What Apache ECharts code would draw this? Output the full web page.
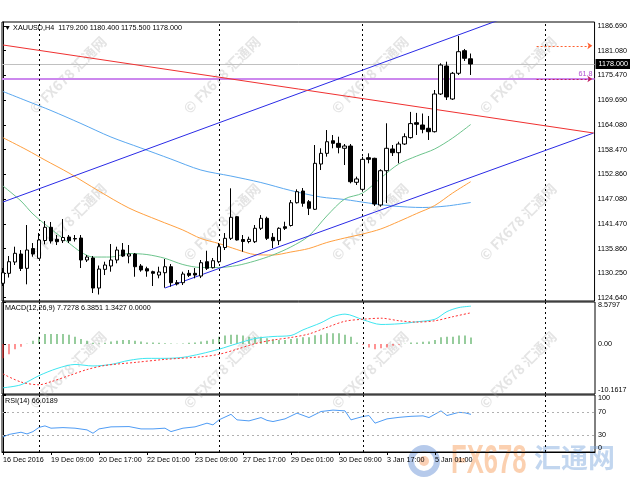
<!DOCTYPE html>
<html><head><meta charset="utf-8">
<script src="https://cdn.jsdelivr.net/npm/echarts@6/dist/echarts.min.js"></script>
<style>html,body{margin:0;padding:0;background:#fff}#c{width:630px;height:490px}</style>
</head><body><div id="c"></div>
<script>
// ---- XAUUSD H4 bars (index 0 = 16 Dec 2016 01:00) ----
const open  = [1127.93,1130.21,1132.79,1134.62,1131.35,1135.87,1133.64,1137.70,1140.72,1137.98,1137.66,1138.50,1138.16,1138.27,1133.25,1133.71,1126.85,1131.12,1131.88,1133.25,1135.53,1134.16,1134.62,1131.88,1131.26,1130.58,1129.82,1130.35,1131.72,1128.07,1128.07,1130.21,1130.21,1129.59,1132.86,1131.49,1132.86,1136.10,1138.20,1143.14,1137.93,1137.47,1137.43,1140.49,1142.77,1138.43,1137.66,1140.85,1141.13,1146.33,1149.00,1146.56,1144.83,1155.17,1157.61,1160.49,1159.89,1158.76,1159.28,1150.99,1149.39,1156.61,1156.47,1145.81,1153.64,1158.60,1157.76,1159.74,1161.20,1164.61,1164.08,1163.33,1162.55,1171.16,1177.55,1170.02,1175.89,1181.05,1179.20];
const high  = [1131.42,1134.16,1136.29,1135.53,1141.24,1137.13,1139.41,1142.15,1141.93,1138.96,1142.61,1138.96,1138.96,1138.96,1134.39,1134.16,1131.99,1132.86,1136.90,1136.29,1137.13,1136.67,1134.85,1132.33,1131.72,1130.81,1131.72,1133.48,1132.33,1128.68,1130.58,1130.97,1131.42,1133.25,1135.37,1133.71,1137.13,1139.41,1149.62,1143.30,1138.96,1138.57,1141.24,1143.52,1143.14,1139.41,1140.72,1141.99,1146.95,1149.39,1149.69,1146.95,1159.51,1158.76,1162.93,1161.79,1161.41,1159.74,1159.74,1152.29,1156.84,1157.61,1156.61,1153.96,1164.47,1159.51,1160.26,1162.18,1167.07,1166.84,1166.70,1166.14,1172.07,1178.17,1178.54,1176.19,1184.41,1181.44,1180.40];
const low   = [1127.31,1129.25,1132.11,1130.74,1127.70,1134.00,1133.48,1136.83,1137.02,1136.67,1137.13,1137.13,1137.47,1131.42,1132.79,1125.71,1125.37,1129.82,1130.58,1132.50,1133.93,1132.50,1129.43,1130.58,1129.43,1127.31,1129.07,1126.92,1127.15,1127.43,1127.54,1129.36,1129.07,1129.13,1130.97,1131.31,1132.50,1135.53,1137.82,1137.70,1135.14,1137.06,1137.13,1140.10,1137.82,1135.99,1136.67,1140.10,1140.90,1146.15,1145.42,1143.52,1144.67,1153.80,1156.85,1158.76,1157.61,1154.94,1150.76,1150.38,1148.85,1155.33,1145.58,1145.42,1146.26,1157.00,1155.33,1159.51,1160.98,1161.80,1162.19,1160.66,1162.37,1170.93,1169.79,1169.79,1175.50,1178.70,1175.50];
const close = [1130.35,1132.86,1134.78,1131.31,1135.53,1134.62,1137.82,1140.72,1137.59,1137.43,1138.39,1137.66,1138.05,1133.25,1133.93,1126.85,1131.19,1132.11,1133.25,1135.53,1134.16,1134.62,1131.72,1130.97,1130.74,1130.21,1130.51,1131.72,1128.07,1127.77,1130.05,1129.75,1129.82,1132.63,1131.35,1133.09,1136.29,1138.20,1143.00,1137.82,1137.47,1137.98,1140.49,1142.77,1138.20,1137.66,1140.49,1140.49,1146.33,1148.85,1146.20,1145.05,1155.33,1157.61,1160.26,1159.89,1158.98,1159.28,1151.13,1151.76,1156.24,1156.24,1146.04,1153.64,1158.76,1157.76,1159.74,1161.41,1164.40,1164.24,1163.10,1162.55,1171.16,1177.78,1170.48,1175.89,1180.82,1179.31,1178.00];

// moving averages: [bar index, price]
const maGreen  = [[0,1150.15],[3,1146.72],[5,1143.75],[8,1140.33],[11,1137.13],[13,1135.07],[15,1133.93],[18,1133.93],[21,1134.73],[24,1134.50],[27,1133.64],[30,1132.22],[33,1131.54],[36,1131.54],[39,1131.99],[42,1133.02],[45,1134.39],[48,1136.22],[51,1138.73],[54,1143.30],[57,1147.18],[60,1148.55],[63,1151.97],[66,1155.17],[69,1156.99],[72,1158.60],[75,1161.11],[78,1164.19]];
const maOrange = [[0,1161.18],[4,1158.37],[7,1156.08],[11,1153.12],[16,1149.00],[21,1145.12],[26,1142.27],[30,1140.10],[33,1138.16],[36,1137.02],[39,1135.65],[42,1134.50],[45,1134.39],[48,1135.07],[51,1135.87],[54,1137.24],[57,1138.27],[60,1139.19],[63,1140.33],[66,1142.04],[69,1143.87],[72,1145.69],[75,1148.55],[78,1151.13]];
const maBlue   = [[0,1171.73],[4,1169.56],[8,1167.39],[13,1164.42],[18,1161.34],[23,1158.83],[28,1156.31],[33,1153.80],[38,1152.43],[43,1150.95],[48,1149.12],[53,1147.64],[57,1147.06],[61,1146.26],[65,1145.58],[70,1145.24],[74,1145.58],[78,1146.38]];

// drawn objects: [bar index, price]
const channelUpper = [[0,1146.49],[98.5,1195.97]];
const channelLower = [[27,1126.85],[98.5,1162.25]];
const redTrend     = [[0,1182.35],[98.5,1162.25]];
const bidPrice = 1178.0;
const fibLevel = 1174.58;
const alertLevel = 1182.15;
const weekSeparators = [6, 36, 60, 90.4];

// MACD(12,26,9)
const macdHist = [-2.90,-2.07,-1.04,-0.55,0.10,0.69,1.52,2.07,2.07,2.07,2.07,1.93,1.52,1.04,0.69,0.28,0.14,0.28,0.55,0.69,0.83,0.83,0.69,0.55,0.35,0.35,0.28,0.20,0.14,0.05,0.14,0.28,0.35,0.55,0.69,0.97,1.52,1.73,1.93,1.93,1.73,1.52,1.38,1.52,1.17,0.97,0.83,0.83,1.04,1.17,1.38,1.38,1.80,1.93,2.21,2.21,2.21,1.93,1.52,0.35,-0.15,-0.69,-1.04,-0.83,-0.69,-0.35,-0.14,0.10,0.35,0.35,0.48,0.55,0.83,1.38,1.52,1.52,1.73,1.73,1.3427];
const macdMain = [[0,-8.90],[3,-8.28],[6,-6.42],[9,-4.97],[12,-4.14],[15,-4.45],[18,-4.14],[21,-3.31],[24,-2.90],[27,-2.90],[30,-2.69],[33,-1.97],[36,-1.04],[39,0.10],[42,1.14],[45,1.55],[48,1.76],[50,2.90],[53,4.35],[55,5.59],[57,6.11],[60,4.97],[63,4.00],[66,4.14],[69,4.55],[72,5.07],[74,6.63],[76,7.45],[78,7.7278]];
const macdSignal = [[0,-6.07],[3,-7.72],[6,-8.28],[8,-7.66],[11,-6.42],[14,-5.18],[17,-4.35],[22,-3.73],[27,-3.11],[33,-2.59],[36,-2.07],[39,-1.04],[42,0.10],[45,0.83],[48,1.35],[51,2.07],[54,3.42],[57,4.66],[60,5.07],[63,5.28],[66,4.76],[69,4.49],[72,4.76],[75,5.59],[78,6.3851]];

// RSI(14)
const rsi = [[0,26.4],[1,30.8],[3,34.7],[4,31.7],[5,35.8],[6,43.2],[7,45.8],[8,41.8],[10,42.8],[12,41.8],[14,38.8],[15,32.9],[16,40.5],[18,44.1],[21,44.6],[23,40.5],[25,40.5],[27,41.8],[28,35.8],[29,38.8],[30,41.8],[32,44.1],[34,50.6],[35,47.6],[36,56.4],[38,66.1],[39,56.4],[41,54.6],[43,60.4],[44,55.5],[45,53.4],[47,58.1],[49,68.2],[51,60.4],[53,71.0],[55,73.5],[57,72.2],[58,56.4],[59,59.4],[60,62.2],[61,64.0],[62,50.6],[64,58.1],[66,60.8],[68,62.6],[70,63.4],[71,60.4],[73,72.2],[74,64.0],[76,69.6],[77,68.7],[78,66.0189]];

// axis ticks
const priceTicks = [1124.640,1130.250,1135.860,1141.470,1147.080,1152.860,1158.470,1164.080,1169.690,1175.470,1181.080,1186.690];
const macdTicks = [8.5797, 0, -10.1617];
const rsiTicks = [100, 70, 30, 0];
const timeTickBars = [0,8,16,24,32,40,48,56,64,72];
const timeTickLabels = ['16 Dec 2016','19 Dec 09:00','20 Dec 17:00','22 Dec 01:00','23 Dec 09:00','27 Dec 17:00','29 Dec 01:00','30 Dec 09:00','3 Jan 17:00','5 Jan 01:00'];

const FONT = 'Liberation Sans';
const FS = 7.2;
const X_MIN = -1/6, X_MAX = 98.6667;
const ohlc = open.map((o,i)=>[i, o, close[i], low[i], high[i]]);

function sepLines(){ return weekSeparators.map(v=>({xAxis:v})); }
const sepStyle = {color:'#000', type:[2,3], width:1};

const wm = [];
[75,222,370].forEach(y=>[68,222,370,518].forEach(x=>{
  wm.push({type:'text', x:x, y:y, rotation:Math.PI/4, silent:true, z:0,
    style:{text:'© FX678 汇通网', fill:'rgba(165,165,165,0.30)', font:'bold 14px "Noto Sans CJK SC"', textAlign:'center', textVerticalAlign:'middle'}});
}));
wm.push({type:'circle', shape:{cx:424, cy:461, r:13}, silent:true, style:{fill:'none', stroke:'rgba(110,150,215,0.5)', lineWidth:6}});
wm.push({type:'circle', shape:{cx:424, cy:461, r:5}, silent:true, style:{fill:'rgba(245,150,90,0.45)'}});
wm.push({type:'text', x:451, y:442, scaleX:0.64, silent:true, style:{text:'FX678', fill:'rgba(247,150,80,0.45)', font:'bold 40px "Liberation Sans"'}});
wm.push({type:'text', x:534, y:444, silent:true, style:{text:'汇通网', fill:'rgba(120,165,220,0.45)', font:'bold 27px "Noto Sans CJK SC"'}});

const lbl = {fontSize:FS, color:'#000', fontFamily:FONT};
const ttl = {fontSize:FS, fontWeight:'normal', color:'#000', fontFamily:FONT};
const chart = echarts.init(document.getElementById('c'), null, {renderer:'canvas'});
chart.setOption({
  animation:false,
  backgroundColor:'#fff',
  textStyle:{fontFamily:FONT},
  title:[
    {text:'▼ XAUUSD,H4  1179.200 1180.400 1175.500 1178.000', left:4, top:25, padding:0, textStyle:ttl},
    {text:'MACD(12,26,9) 7.7278 6.3851 1.3427 0.0000', left:5, top:305, padding:0, textStyle:ttl},
    {text:'RSI(14) 66.0189', left:5, top:398, padding:0, textStyle:ttl}
  ],
  graphic: wm,
  grid:[
    {left:2, right:35, top:22, height:279, show:true, borderColor:'#000', borderWidth:1, backgroundColor:'transparent'},
    {left:2, right:35, top:302, height:92, show:true, borderColor:'#000', borderWidth:1, backgroundColor:'transparent'},
    {left:2, right:35, top:395, height:57, show:true, borderColor:'#000', borderWidth:1, backgroundColor:'transparent'}
  ],
  xAxis:[
    {gridIndex:0, type:'value', min:X_MIN, max:X_MAX, show:false, splitLine:{show:false}},
    {gridIndex:1, type:'value', min:X_MIN, max:X_MAX, show:false, splitLine:{show:false}},
    {gridIndex:2, type:'value', min:X_MIN, max:X_MAX, position:'bottom', splitLine:{show:false},
      axisLine:{lineStyle:{color:'#000'}},
      axisTick:{length:3, lineStyle:{color:'#000'}, customValues:timeTickBars},
      axisLabel:Object.assign({customValues:timeTickBars, align:'left', margin:5, showMinLabel:true, showMaxLabel:true, hideOverlap:false,
        formatter:v=>{const k=timeTickBars.indexOf(Math.round(v)); return k>=0?timeTickLabels[k]:'';}}, lbl)}
  ],
  yAxis:[
    {gridIndex:0, type:'value', position:'right', min:1123.89, max:1187.60, splitLine:{show:false},
      axisLine:{show:true, lineStyle:{color:'#000'}}, axisTick:{show:true, length:3, customValues:priceTicks, lineStyle:{color:'#000'}},
      axisLabel:Object.assign({customValues:priceTicks, margin:3, formatter:v=>v.toFixed(3)}, lbl)},
    {gridIndex:1, type:'value', position:'right', min:-10.1617, max:8.5797, splitLine:{show:false},
      axisLine:{show:true, lineStyle:{color:'#000'}}, axisTick:{show:true, length:3, customValues:macdTicks, lineStyle:{color:'#000'}},
      axisLabel:Object.assign({customValues:macdTicks, margin:3,
        verticalAlignMaxLabel:'bottom', verticalAlignMinLabel:'top',
        formatter:v=>v===0?'0.00':v.toFixed(4)}, lbl)},
    {gridIndex:2, type:'value', position:'right', min:0, max:100, splitLine:{show:false},
      axisLine:{show:true, lineStyle:{color:'#000'}}, axisTick:{show:true, length:3, customValues:rsiTicks, lineStyle:{color:'#000'}},
      axisLabel:Object.assign({customValues:rsiTicks, margin:3,
        verticalAlignMaxLabel:'bottom', verticalAlignMinLabel:'top', formatter:v=>String(v)}, lbl)}
  ],
  series:[
    {type:'line', xAxisIndex:0, yAxisIndex:0, data:maBlue, showSymbol:false, smooth:0.3, lineStyle:{color:'#5aa8f0', width:1}, z:2},
    {type:'line', xAxisIndex:0, yAxisIndex:0, data:maOrange, showSymbol:false, smooth:0.3, lineStyle:{color:'#ffa040', width:1}, z:2},
    {type:'line', xAxisIndex:0, yAxisIndex:0, data:maGreen, showSymbol:false, smooth:0.3, lineStyle:{color:'#6cc48c', width:1}, z:2},
    {type:'line', xAxisIndex:0, yAxisIndex:0, data:channelUpper, showSymbol:false, lineStyle:{color:'#2a2ae6', width:1}, z:3},
    {type:'line', xAxisIndex:0, yAxisIndex:0, data:channelLower, showSymbol:false, lineStyle:{color:'#2a2ae6', width:1}, z:3},
    {type:'line', xAxisIndex:0, yAxisIndex:0, data:redTrend, showSymbol:false, lineStyle:{color:'#f03030', width:1}, z:3},
    {type:'candlestick', xAxisIndex:0, yAxisIndex:0, data:ohlc, encode:{x:0, y:[1,2,3,4]}, barWidth:4, z:5,
      itemStyle:{color:'#fff', color0:'#000', borderColor:'#000', borderColor0:'#000', borderWidth:1},
      markLine:{silent:true, symbol:['none','none'], animation:false, z:1,
        data:[
          {yAxis:bidPrice, lineStyle:{color:'#c0c0c0', width:1, type:'solid'},
            label:{show:true, position:'end', distance:1, formatter:bidPrice.toFixed(3), backgroundColor:'#000', color:'#fff', fontSize:FS, fontFamily:FONT, padding:[2,3,1,3]}},
          {yAxis:fibLevel, lineStyle:{color:'#cc88ee', width:2, type:'solid'},
            label:{show:true, position:'insideEndTop', distance:[2,1], formatter:'61.8', color:'#b050d0', fontSize:FS, fontFamily:FONT}},
          [{coord:[89,alertLevel], lineStyle:{color:'#ff6030', width:1, type:[2,2]}, label:{show:false}},
           {coord:[98.3,alertLevel], symbol:'arrow', symbolSize:5}],
          [{coord:[89,fibLevel], lineStyle:{color:'#c02060', width:1, type:[2,2]}, label:{show:false}},
           {coord:[98.3,fibLevel], symbol:'arrow', symbolSize:5}],
          ...sepLines().map(d=>Object.assign(d,{lineStyle:sepStyle, label:{show:false}}))
        ]}},
    {type:'bar', xAxisIndex:1, yAxisIndex:1, data:macdHist.map((v,i)=>[i,v]), barWidth:1,
      itemStyle:{color:p=>p.value[1]>=0?'#2f9a3a':'#ff2828'},
      markLine:{silent:true, symbol:['none','none'], label:{show:false}, lineStyle:sepStyle, data:sepLines()}},
    {type:'line', xAxisIndex:1, yAxisIndex:1, data:macdMain, showSymbol:false, smooth:0.3, lineStyle:{color:'#3fe6f0', width:1}},
    {type:'line', xAxisIndex:1, yAxisIndex:1, data:macdSignal, showSymbol:false, smooth:0.3, lineStyle:{color:'#ff3030', width:1, type:[2,2]}},
    {type:'line', xAxisIndex:2, yAxisIndex:2, data:rsi, showSymbol:false, lineStyle:{color:'#4f9cf5', width:1},
      markLine:{silent:true, symbol:['none','none'], label:{show:false},
        data:[
          {yAxis:70, lineStyle:{color:'#b0b0b0', type:[2,3], width:1}},
          {yAxis:30, lineStyle:{color:'#b0b0b0', type:[2,3], width:1}},
          ...sepLines().map(d=>Object.assign(d,{lineStyle:sepStyle}))
        ]}}
  ]
});
</script></body></html>
